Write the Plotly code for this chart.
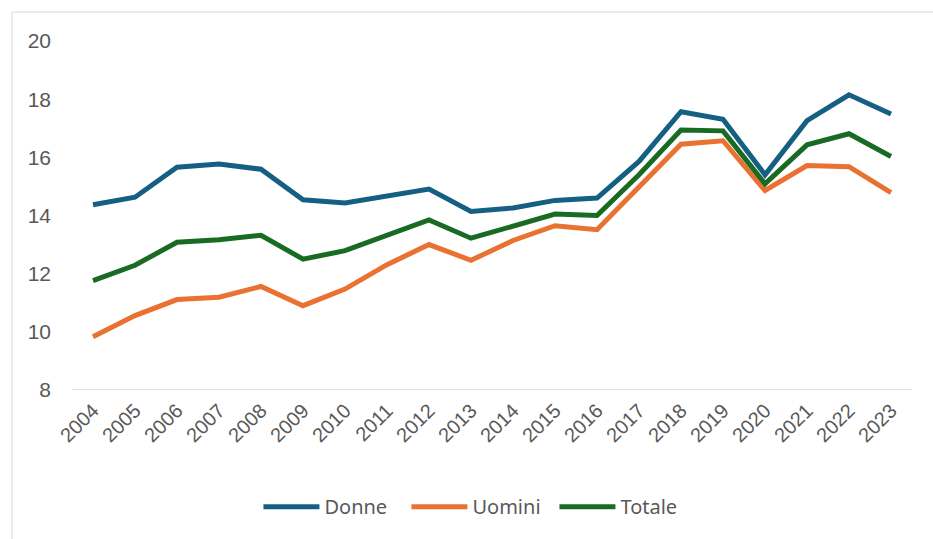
import plotly.graph_objects as go

anni = [str(a) for a in range(2004, 2024)]

donne = [14.37, 14.63, 15.66, 15.77, 15.59, 14.54, 14.43, 14.66, 14.91, 14.14,
         14.26, 14.52, 14.60, 15.86, 17.57, 17.31, 15.40, 17.26, 18.15, 17.49]
uomini = [9.83, 10.56, 11.11, 11.19, 11.56, 10.90, 11.47, 12.31, 13.00, 12.46,
          13.14, 13.65, 13.51, 14.96, 16.45, 16.57, 14.86, 15.72, 15.68, 14.79]
totale = [11.76, 12.29, 13.08, 13.17, 13.32, 12.50, 12.79, 13.34, 13.85, 13.22,
          13.62, 14.05, 14.00, 15.40, 16.94, 16.91, 15.09, 16.43, 16.81, 16.03]

testo = "#595959"

fig = go.Figure()
for nome, valori, colore in [("Donne", donne, "#156082"),
                             ("Uomini", uomini, "#E97132"),
                             ("Totale", totale, "#196B24")]:
    fig.add_trace(go.Scatter(x=anni, y=valori, name=nome, mode="lines",
                             line=dict(color=colore, width=5)))

fig.update_layout(
    width=933, height=539,
    margin=dict(l=72, r=21, t=41, b=148.5, autoexpand=False),
    plot_bgcolor="white", paper_bgcolor="white",
    font=dict(family="Liberation Sans, Arial", color=testo),
    showlegend=True,
    legend=dict(orientation="h", xref="container", yref="container",
                x=0.277, xanchor="left", y=0.06, yanchor="middle",
                font=dict(size=20, family="Noto Sans", color=testo),
                itemwidth=56, tracegroupgap=0, entrywidth=77),
    shapes=[dict(type="rect", xref="paper", yref="paper",
                 x0=-0.0714, x1=1.2, y0=-0.5, y1=1.083,
                 line=dict(color="#D9D9D9", width=1), layer="below")],
)
fig.update_xaxes(type="category", range=[-0.5, 19.5], tickangle=-45,
                 showgrid=False, showline=False, zeroline=False, automargin=False,
                 ticklabelstandoff=4,
                 tickfont=dict(size=20, color=testo))
fig.update_yaxes(range=[8, 20], dtick=2, showgrid=False, zeroline=False,
                 showline=False, ticklabelstandoff=20, automargin=False,
                 tickfont=dict(size=21, color=testo))
fig.add_hline(y=8, line=dict(color="#D9D9D9", width=1.5), layer="below")

# la pagina ha un margine di 8px sul body: lo azzero
fig.write_html("out.html", config={"displayModeBar": False},
               post_script="document.body.style.margin='0';")
